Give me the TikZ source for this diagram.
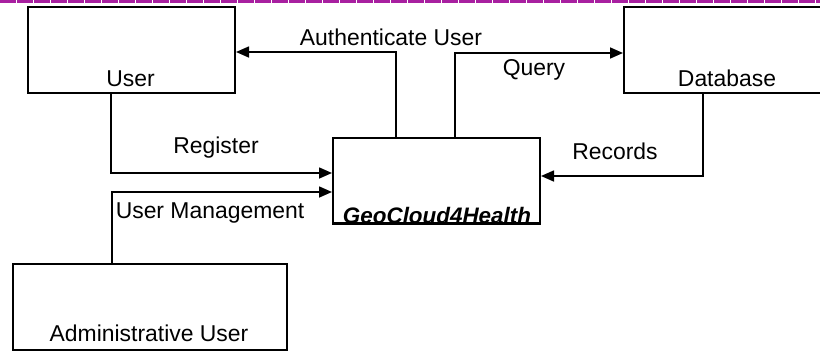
\documentclass[tikz,border=0pt]{standalone}
\usepackage{fontspec}
\setmainfont{Liberation Sans}
\usetikzlibrary{arrows.meta}
\begin{document}
\begin{tikzpicture}[x=1bp,y=-1bp,
  lbl/.style={font=\fontsize{23}{27}\selectfont,inner sep=0pt},
  blk/.style={draw=black,line width=2bp,fill=white},
  conn/.style={draw=black,line width=1.6bp},
  arr/.style={conn,-{Triangle[length=13bp,width=11bp]}}]
\useasboundingbox (0,0) rectangle (820,352);
\clip (0,0) rectangle (820,352);
\fill[white] (0,0) rectangle (820,352);
% top border
\draw[color={rgb,255:red,168;green,32;blue,160},line width=2.6bp,dash pattern=on 16bp off 1bp] (0,1.3) -- (820,1.3);
% boxes
\node[blk,minimum width=207bp,minimum height=86bp,anchor=north west] (user) at (27,6) {};
\node[lbl,anchor=base] at (130.5,86) {User};
\node[blk,minimum width=208bp,minimum height=86bp,anchor=north west] (db) at (623,6) {};
\node[lbl,anchor=base] at (727,86) {Database};
\node[blk,minimum width=274bp,minimum height=86bp,anchor=north west] (admin) at (12,263) {};
\node[lbl,anchor=base] at (149,341) {Administrative User};
\node[blk,minimum width=207bp,minimum height=85bp,anchor=north west] (geo) at (332,137) {};
\node[lbl,anchor=base,font=\fontsize{22.5}{26}\selectfont\bfseries\itshape] (geotxt) at (437,223) {GeoCloud4Health};
\draw[line width=2bp] (geo.south west) -- (geo.south east);
% coordinates
\coordinate (au1) at (396,137);
\coordinate (au2) at (396,52);
\coordinate (q1) at (455,137);
\coordinate (q2) at (455,53);
\coordinate (r1) at (111,92);
\coordinate (r2) at (111,173);
\coordinate (m1) at (112,263);
\coordinate (m2) at (112,192);
\coordinate (d1) at (703,92);
\coordinate (d2) at (703,176);
% connectors
\draw[arr] (au1) -- (au2) -- (user.east |- au2);
\draw[arr] (q1) -- (q2) -- (db.west |- q2);
\draw[arr] (r1) -- (r2) -- (geo.west |- r2);
\draw[arr] (m1) -- (m2) -- (geo.west |- m2);
\draw[arr] (d1) -- (d2) -- (geo.east |- d2);
% labels
\node[lbl] (la) at (391,37) {Authenticate User};
\node[lbl] (lq) at (534,70) {Query};
\node[lbl] (lr) at (216,148) {Register};
\node[lbl] (lrec) at (615,151) {Records};
\node[lbl] (lm) at (210,213) {User Management};
\end{tikzpicture}
\end{document}
